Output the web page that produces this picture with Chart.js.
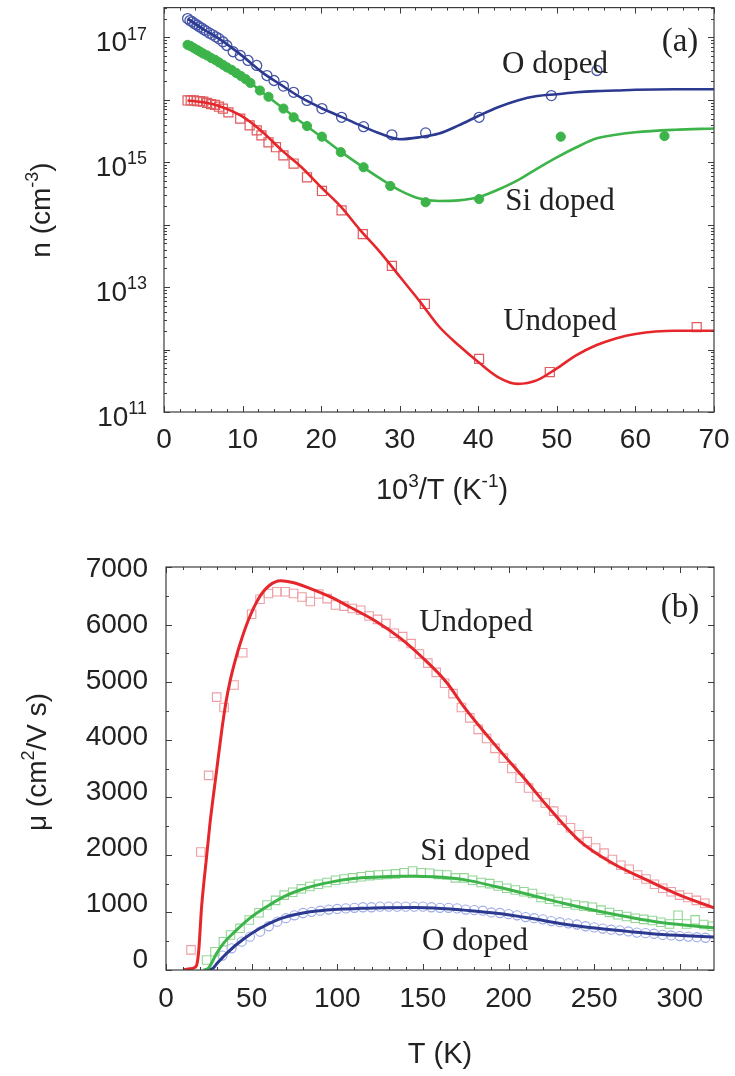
<!DOCTYPE html>
<html lang="en">
<head>
<meta charset="UTF-8">
<title>Carrier density and mobility</title>
<script src="https://cdn.jsdelivr.net/npm/chart.js"></script>
<style>
  body { margin: 0; background: #fff; }
  #wrap { position: relative; width: 735px; height: 1076px; }
  canvas { position: absolute; left: 0; }
  #chartA { top: 0; }
  #chartB { top: 540px; }
</style>
</head>
<body>
<div id="wrap">
  <canvas id="chartA" width="735" height="540"></canvas>
  <canvas id="chartB" width="735" height="536"></canvas>
</div>
<script>
// ---- panel (a): n vs 10^3/T ----
const fitX = [3, 5, 7, 10, 12.5, 15, 17.5, 20, 22.5, 25, 27.5, 30, 32.5, 35, 37.5, 40, 42.5, 45, 47.5, 50, 52.5, 55, 57.5, 60, 65, 70];
const fitO = [2.0e17, 1.35e17, 9.55e16, 5.01e16, 2.75e16, 1.70e16, 1.07e16, 7.41e15, 5.37e15, 3.89e15, 2.88e15, 2.34e15, 2.51e15, 2.88e15, 3.89e15, 5.50e15, 7.59e15, 9.77e15, 1.15e16, 1.23e16, 1.32e16, 1.38e16, 1.41e16, 1.45e16, 1.48e16, 1.48e16];
const fitSi = [7.41e16, 5.50e16, 3.98e16, 2.34e16, 1.32e16, 7.59e15, 4.37e15, 2.57e15, 1.48e15, 8.91e14, 5.50e14, 3.55e14, 2.63e14, 2.40e14, 2.45e14, 2.75e14, 3.63e14, 5.13e14, 7.94e14, 1.20e15, 1.74e15, 2.40e15, 2.75e15, 3.02e15, 3.31e15, 3.47e15];
const fitUn = [9.77e15, 9.12e15, 7.94e15, 5.37e15, 3.09e15, 1.55e15, 8.32e14, 3.98e14, 1.95e14, 8.13e13, 3.63e13, 1.48e13, 6.03e12, 2.34e12, 1.17e12, 6.31e11, 3.63e11, 2.82e11, 3.24e11, 5.01e11, 8.13e11, 1.17e12, 1.51e12, 1.78e12, 2.0e12, 2.0e12];

const oX = [3.0, 3.3, 3.6, 3.9, 4.2, 4.5, 4.8, 5.1, 5.4, 5.8, 6.2, 6.6, 7.0, 7.5, 8.0, 8.8, 9.7, 10.7, 11.8, 13.1, 14.0, 15.2, 16.5, 18.2, 20.1, 22.6, 25.4, 29.0, 33.3, 40.1, 49.3, 55.1];
const oN = [2.0e17, 1.86e17, 1.78e17, 1.66e17, 1.58e17, 1.48e17, 1.41e17, 1.32e17, 1.26e17, 1.17e17, 1.10e17, 1.02e17, 9.55e16, 8.51e16, 7.41e16, 5.89e16, 5.13e16, 4.27e16, 3.55e16, 2.45e16, 2.04e16, 1.66e16, 1.32e16, 9.77e15, 7.24e15, 5.25e15, 3.72e15, 2.75e15, 2.95e15, 5.25e15, 1.17e16, 2.95e16];
const siX = [3.0, 3.4, 3.8, 4.2, 4.6, 5.0, 5.5, 6.0, 6.5, 7.0, 7.5, 8.0, 8.6, 9.2, 9.8, 10.4, 11.0, 12.2, 13.3, 15.2, 16.5, 18.2, 20.1, 22.5, 25.4, 28.8, 33.3, 40.1, 50.5, 63.7];
const siN = [7.59e16, 7.24e16, 6.76e16, 6.31e16, 5.89e16, 5.50e16, 5.13e16, 4.68e16, 4.37e16, 3.98e16, 3.63e16, 3.31e16, 3.02e16, 2.69e16, 2.40e16, 2.14e16, 1.86e16, 1.41e16, 1.12e16, 7.24e15, 5.25e15, 3.80e15, 2.57e15, 1.45e15, 8.32e14, 4.17e14, 2.29e14, 2.57e14, 2.57e15, 2.63e15];
const unX = [3.0, 3.4, 3.8, 4.2, 4.6, 5.0, 5.5, 6.0, 6.5, 7.0, 7.5, 8.2, 9.7, 10.9, 11.8, 12.4, 13.3, 14.25, 15.2, 16.5, 18.2, 20.1, 22.6, 25.3, 29.0, 33.2, 40.1, 49.1, 67.8];
const unN = [9.77e15, 9.77e15, 9.77e15, 9.55e15, 9.55e15, 9.33e15, 8.91e15, 8.51e15, 8.32e15, 7.76e15, 7.24e15, 6.31e15, 5.01e15, 3.89e15, 3.24e15, 2.69e15, 2.09e15, 1.74e15, 1.29e15, 9.55e14, 5.75e14, 3.47e14, 1.70e14, 7.08e13, 2.19e13, 5.37e12, 7.08e11, 4.37e11, 2.29e12];

const aXTicks = [0, 10, 20, 30, 40, 50, 60, 70];
const aYExp = [11, 13, 15, 17];

// ---- panel (b): mobility vs T ----
const unFitT = [10, 14, 17.5, 19, 20.8, 23.7, 25.7, 29.5, 32.5, 35, 37.5, 40, 43, 48, 54, 60, 67, 74, 84, 96, 107, 123, 137, 150, 164, 174, 193, 210, 222, 242, 261, 281, 300, 320];
const unFitMu = [0, 20, 60, 300, 1100, 1970, 2550, 3450, 4150, 4650, 5030, 5330, 5640, 6070, 6450, 6670, 6760, 6730, 6630, 6480, 6310, 6050, 5760, 5420, 4990, 4570, 3880, 3300, 2870, 2230, 1850, 1560, 1300, 1080];
const siFitT = [22, 24.7, 29.6, 34, 39.3, 49, 58.8, 68.5, 78.2, 88, 97.7, 107.4, 117, 127, 137, 146, 156, 166, 174, 193, 213, 232, 252, 271, 290, 320];
const siFitMu = [0, 30, 290, 480, 640, 900, 1100, 1270, 1390, 1475, 1535, 1580, 1605, 1620, 1627, 1627, 1620, 1600, 1570, 1447, 1303, 1158, 1025, 915, 822, 735];
const oFitT = [24, 27, 30, 35.4, 45.1, 54.9, 64.6, 74.3, 84.1, 93.8, 103.5, 113.3, 127, 146, 156, 166, 174, 193, 213, 232, 252, 271, 290, 320];
const oFitMu = [0, 20, 120, 290, 533, 724, 868, 955, 1013, 1042, 1060, 1071, 1082, 1085, 1078, 1060, 1040, 985, 898, 800, 724, 666, 615, 575];

const unT = [14.6, 20.3, 24.9, 29.6, 33.9, 39.7, 44.8, 50, 54.9, 59.8, 64.7, 69.6, 74.5, 79.4, 84.3, 89.2, 94.1, 99.0, 103.9, 108.8, 113.7, 118.6, 123.5, 128.4, 133.3, 138.2, 143.1, 148.0, 152.9, 157.8, 162.7, 167.6, 172.5, 177.4, 182.3, 187.2, 192.1, 197.0, 201.9, 206.8, 211.7, 216.6, 221.5, 226.4, 231.3, 236.2, 241.1, 246.0, 250.9, 255.8, 260.7, 265.6, 270.5, 275.4, 280.3, 285.2, 290.1, 295.0, 299.9, 304.8, 309.7, 314.6];
const unMu = [350, 2050, 3380, 4740, 4560, 4950, 5510, 6180, 6440, 6540, 6570, 6570, 6540, 6480, 6400, 6530, 6450, 6340, 6320, 6280, 6250, 6150, 6090, 6020, 5850, 5790, 5670, 5490, 5330, 5170, 4980, 4800, 4560, 4380, 4180, 4020, 3850, 3680, 3500, 3330, 3160, 3010, 2900, 2760, 2600, 2470, 2350, 2230, 2120, 2030, 1920, 1820, 1750, 1650, 1580, 1490, 1420, 1360, 1300, 1260, 1210, 1160];
const siT = [23.7, 28.6, 33.5, 37.7, 43.2, 48.6, 54.3, 59, 64, 69, 74, 79, 84, 89, 94, 99, 104, 109, 114, 119, 124, 129, 134, 139, 144, 149, 154, 159, 164, 169, 174, 179, 184, 189, 194, 199, 204, 209, 214, 219, 224, 229, 234, 239, 244, 249, 254, 259, 264, 269, 274, 279, 284, 289, 294, 299, 304, 309, 314, 319];
const siMu = [174, 318, 492, 608, 724, 868, 995, 1130, 1210, 1300, 1350, 1410, 1450, 1490, 1520, 1560, 1580, 1600, 1620, 1640, 1650, 1660, 1670, 1690, 1720, 1690, 1680, 1660, 1650, 1600, 1600, 1560, 1520, 1500, 1460, 1420, 1390, 1360, 1330, 1260, 1230, 1190, 1160, 1130, 1110, 1090, 1040, 1000, 960, 930, 900, 880, 860, 830, 800, 950, 800, 870, 790, 760];
const oT = [33, 38.3, 44.2, 49, 54.9, 60, 65, 70, 75, 80, 85, 90, 95, 100, 105, 110, 115, 120, 125, 130, 135, 140, 145, 150, 155, 160, 165, 170, 175, 180, 185, 190, 195, 200, 205, 210, 215, 220, 225, 230, 235, 240, 245, 250, 255, 260, 265, 270, 275, 280, 285, 290, 295, 300, 305, 310, 315];
const oMu = [250, 377, 492, 579, 666, 760, 840, 900, 950, 990, 1010, 1030, 1050, 1060, 1070, 1080, 1090, 1090, 1100, 1100, 1100, 1100, 1100, 1100, 1090, 1080, 1080, 1070, 1050, 1040, 1030, 1000, 990, 970, 950, 920, 900, 880, 850, 830, 810, 790, 760, 740, 720, 700, 690, 670, 650, 640, 630, 610, 600, 590, 580, 570, 560];

const bXTicks = [0, 50, 100, 150, 200, 250, 300];
const bYTicks = [0, 1000, 2000, 3000, 4000, 5000, 6000, 7000];

const RED = '#e5262b', GREEN = '#3cb44a', BLUE = '#2b3990';
const SANS = '"Liberation Sans", Arial, sans-serif';
const SERIF = '"Liberation Serif", "Times New Roman", serif';
const INK = '#222';

function pts(xs, ys) { return xs.map((x, i) => ({ x: x, y: ys[i] })); }

function fitLine(xs, ys, color, w) {
  return { data: pts(xs, ys), showLine: true, borderColor: color, borderWidth: w,
    pointRadius: 0, cubicInterpolationMode: 'monotone', fill: false };
}
function marks(xs, ys, style, r, stroke, fillC, bw) {
  return { data: pts(xs, ys), showLine: false, pointStyle: style, pointRadius: r,
    borderColor: stroke, backgroundColor: fillC, borderWidth: bw };
}

// text with superscript pieces: parts = [[text, isSup], ...]
function rich(ctx, parts, x, y, size, align) {
  const sup = Math.round(size * 0.66);
  let total = 0;
  parts.forEach(p => { ctx.font = (p[1] ? sup : size) + 'px ' + SANS; total += ctx.measureText(p[0]).width; });
  let cx = align === 'right' ? x - total : align === 'center' ? x - total / 2 : x;
  ctx.textAlign = 'left';
  ctx.textBaseline = 'alphabetic';
  parts.forEach(p => {
    ctx.font = (p[1] ? sup : size) + 'px ' + SANS;
    ctx.fillText(p[0], cx, p[1] ? y - size * 0.42 : y);
    cx += ctx.measureText(p[0]).width;
  });
}

function serif(ctx, t, x, y, size) {
  ctx.font = size + 'px ' + SERIF;
  ctx.textAlign = 'center';
  ctx.textBaseline = 'middle';
  ctx.fillText(t, x, y);
}

function frame(chart, xMaj, xMin, yMaj, yMin) {
  const { ctx, chartArea: a, scales } = chart;
  ctx.save();
  ctx.strokeStyle = '#3c3c3c';
  ctx.lineWidth = 1.2;
  ctx.strokeRect(a.left, a.top, a.right - a.left, a.bottom - a.top);
  ctx.lineWidth = 1;
  ctx.beginPath();
  const xt = (vals, len) => vals.forEach(v => {
    const p = Math.round(scales.x.getPixelForValue(v)) + 0.5;
    ctx.moveTo(p, a.bottom); ctx.lineTo(p, a.bottom - len);
    ctx.moveTo(p, a.top); ctx.lineTo(p, a.top + len);
  });
  const yt = (vals, len) => vals.forEach(v => {
    const p = Math.round(scales.y.getPixelForValue(v)) + 0.5;
    ctx.moveTo(a.left, p); ctx.lineTo(a.left + len, p);
    ctx.moveTo(a.right, p); ctx.lineTo(a.right - len, p);
  });
  xt(xMaj, 6); xt(xMin, 3); yt(yMaj, 6); yt(yMin, 3);
  ctx.stroke();
  ctx.restore();
}

// ---------- chart (a) ----------
const aMinorX = [];
for (let v = 2; v < 70; v += 2) if (v % 10) aMinorX.push(v);
const aMajorY = [], aMinorY = [];
for (let d = 11; d <= 17; d++) {
  aMajorY.push(Math.pow(10, d));
  for (let k = 2; k <= 9; k++) if (k * Math.pow(10, d) <= 3e17) aMinorY.push(k * Math.pow(10, d));
}

const decorA = {
  id: 'decorA',
  afterDraw(chart) {
    const { ctx, scales: { x, y } } = chart;
    frame(chart, aXTicks, aMinorX, aMajorY, aMinorY);
    ctx.save();
    ctx.fillStyle = INK;
    ctx.font = '28px ' + SANS;
    ctx.textAlign = 'center';
    ctx.textBaseline = 'alphabetic';
    aXTicks.forEach(v => ctx.fillText(String(v), x.getPixelForValue(v), 448));
    aYExp.forEach(e => rich(ctx, [['10', false], [String(e), true]], 147, y.getPixelForValue(Math.pow(10, e)) + 14, 28, 'right'));
    rich(ctx, [['10', false], ['3', true], ['/T (K', false], ['-1', true], [')', false]], 442, 499, 29, 'center');
    ctx.save();
    ctx.translate(50, 210);
    ctx.rotate(-Math.PI / 2);
    rich(ctx, [['n (cm', false], ['-3', true], [')', false]], 0, 0, 28, 'center');
    ctx.restore();
    serif(ctx, '(a)', 680, 42, 33);
    serif(ctx, 'O doped', 555, 65, 31);
    serif(ctx, 'Si doped', 560, 202, 31);
    serif(ctx, 'Undoped', 560, 322, 31);
    ctx.restore();
  }
};

new Chart(document.getElementById('chartA'), {
  type: 'scatter',
  data: {
    datasets: [
      fitLine(fitX, fitO, BLUE, 2.6),
      fitLine(fitX, fitSi, GREEN, 2.6),
      fitLine(fitX, fitUn, RED, 2.6),
      marks(oX, oN, 'circle', 5, '#4656a8', 'rgba(0,0,0,0)', 1.3),
      marks(siX, siN, 'circle', 4.6, GREEN, GREEN, 1),
      marks(unX, unN, 'rect', 6.4, '#e05a5e', 'rgba(0,0,0,0)', 1.2)
    ]
  },
  options: {
    responsive: false,
    animation: false,
    devicePixelRatio: 1,
    layout: { padding: { left: 0, right: 21, top: 7, bottom: 0 } },
    plugins: { legend: { display: false }, tooltip: { enabled: false } },
    scales: {
      x: { type: 'linear', min: 0, max: 70, grid: { display: false }, border: { display: false },
        ticks: { display: false }, afterFit: s => { s.height = 128; } },
      y: { type: 'logarithmic', min: 1e11, max: 3e17, grid: { display: false }, border: { display: false },
        ticks: { display: false }, afterFit: s => { s.width = 164; } }
    }
  },
  plugins: [decorA]
});

// ---------- chart (b) ----------
const bMinorX = [];
for (let v = 10; v < 320; v += 10) if (v % 50) bMinorX.push(v);
const bMinorY = [500, 1500, 2500, 3500, 4500, 5500, 6500];

const decorB = {
  id: 'decorB',
  afterDraw(chart) {
    const { ctx, scales: { x, y } } = chart;
    frame(chart, bXTicks, bMinorX, bYTicks, bMinorY);
    ctx.save();
    ctx.fillStyle = INK;
    ctx.font = '28px ' + SANS;
    ctx.textAlign = 'center';
    ctx.textBaseline = 'alphabetic';
    bXTicks.forEach(v => ctx.fillText(String(v), x.getPixelForValue(v), 467));
    ctx.textAlign = 'right';
    bYTicks.forEach(v => ctx.fillText(String(v), 148, y.getPixelForValue(v) - 12 * (1 - v / 7000) + 10));
    rich(ctx, [['T (K)', false]], 440, 523, 29, 'center');
    ctx.save();
    ctx.translate(46, 222);
    ctx.rotate(-Math.PI / 2);
    rich(ctx, [['\u03bc (cm', false], ['2', true], ['/V s)', false]], 0, 0, 28, 'center');
    ctx.restore();
    serif(ctx, '(b)', 680, 68, 33);
    serif(ctx, 'Undoped', 476, 83, 31);
    serif(ctx, 'Si doped', 475, 312, 31);
    serif(ctx, 'O doped', 475, 402, 31);
    ctx.restore();
  }
};

new Chart(document.getElementById('chartB'), {
  type: 'scatter',
  data: {
    datasets: [
      fitLine(unFitT, unFitMu, RED, 3),
      fitLine(siFitT, siFitMu, GREEN, 3),
      fitLine(oFitT, oFitMu, BLUE, 3),
      marks(unT, unMu, 'rect', 6, '#ee9ea4', 'rgba(0,0,0,0)', 1.1),
      marks(siT, siMu, 'rect', 6, '#93d696', 'rgba(0,0,0,0)', 1.1),
      marks(oT, oMu, 'circle', 4.6, '#9caae6', 'rgba(0,0,0,0)', 1.1)
    ]
  },
  options: {
    responsive: false,
    animation: false,
    devicePixelRatio: 1,
    layout: { padding: { left: 0, right: 21, top: 27, bottom: 0 } },
    plugins: { legend: { display: false }, tooltip: { enabled: false } },
    scales: {
      x: { type: 'linear', min: 0, max: 320, grid: { display: false }, border: { display: false },
        ticks: { display: false }, afterFit: s => { s.height = 106; } },
      y: { type: 'linear', min: 0, max: 7000, grid: { display: false }, border: { display: false },
        ticks: { display: false }, afterFit: s => { s.width = 166; } }
    }
  },
  plugins: [decorB]
});
</script>
</body>
</html>
